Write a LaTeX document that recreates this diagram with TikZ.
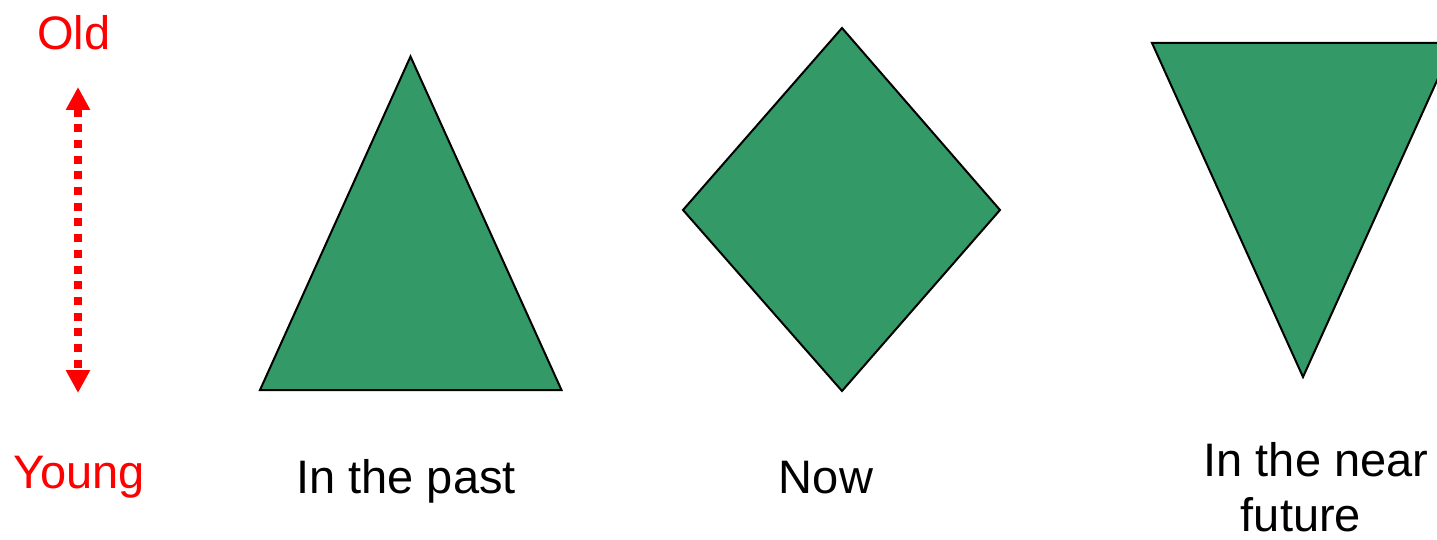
\documentclass[tikz,border=0pt]{standalone}
\usepackage{fontspec}
\setmainfont{Liberation Sans}
\usetikzlibrary{arrows.meta}
\definecolor{shapegreen}{HTML}{339966}
\begin{document}
\begin{tikzpicture}[x=1pt,y=1pt,
  shapebox/.style={fill=shapegreen,draw=black,line width=2pt,line join=miter},
  redlabel/.style={text=red,font=\fontsize{47}{56}\selectfont,inner sep=0pt,anchor=base},
  blacklabel/.style={text=black,font=\fontsize{47}{55}\selectfont,inner sep=0pt,anchor=base,align=center},
  agearrow/.style={red,line width=8pt,dash pattern=on 8pt off 7.7pt,
    {Triangle[width=23pt,length=23pt]}-{Triangle[width=23pt,length=23pt]}}]
\useasboundingbox (0,0) rectangle (1437,539);
\clip (0,0) rectangle (1437,539);
% shapes
\draw[shapebox] (410.5,482.5) -- (260,149) -- (561.5,149) -- cycle;
\draw[shapebox] (842,511) -- (683,329) -- (842,148) -- (1000,329) -- cycle;
\draw[shapebox] (1152,496) -- (1454,496) -- (1303,162) -- cycle;
% labels
\node[redlabel] (old) at (74,489) {Old};
\node[redlabel] (young) at (79,51) {Young};
\node[blacklabel] (past) at (406,46) {In the past};
\node[blacklabel] (now) at (826,46) {Now};
\node[blacklabel] (future) at (1316,8) {In the near\\future\hspace*{30pt}};
% arrow
\coordinate (atop) at (78,452);
\coordinate (abot) at (78,146);
\draw[agearrow] (atop) -- (abot);
\end{tikzpicture}
\end{document}
